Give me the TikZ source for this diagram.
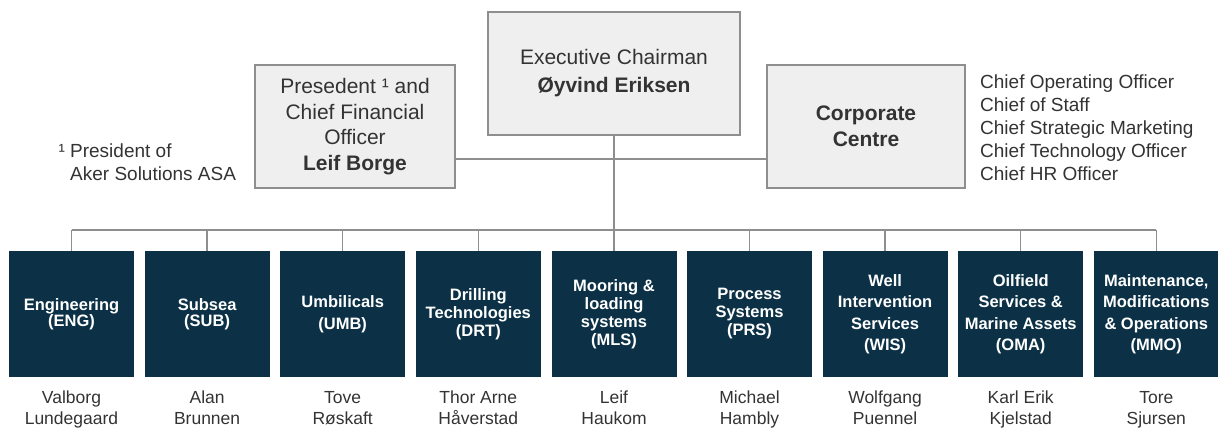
\documentclass[tikz,border=0pt]{standalone}
\usepackage{fontspec}
\setmainfont{Liberation Sans}
\usetikzlibrary{positioning}
\definecolor{navy}{HTML}{0C3146}
\definecolor{boxgray}{HTML}{EFEFEF}
\definecolor{edgegray}{HTML}{8E8E8E}
\definecolor{ink}{HTML}{333333}

\begin{document}
\begin{tikzpicture}[
  x=1pt, y=-1pt,
  hd/.style={rectangle, draw=edgegray, line width=1.4pt, fill=boxgray, align=center, text=ink, inner sep=0pt, font=\fontsize{21}{25.5}\selectfont},
  un/.style={rectangle, fill=navy, text=white, align=center, minimum width=125pt, minimum height=126pt, inner sep=0pt, font=\bfseries\fontsize{16.5}{#1}\selectfont},
  un/.default=18,
  who/.style={align=center, text=ink, inner sep=0pt, font=\fontsize{17.5}{21}\selectfont, execute at begin node=\strut, execute at end node=\strut},
  note/.style={align=left, text=ink, inner sep=0pt, anchor=west, font=\fontsize{19}{23}\selectfont},
  ln/.style={draw=edgegray, line width=1.4pt}]

\useasboundingbox (0,0) rectangle (1218,428);

% ---- top management ----
\node[hd, minimum width=252pt, minimum height=123pt] (exec) at (614,73.5) {Executive Chairman\\[2.5pt]\textbf{Øyvind Eriksen}};
\node[hd, minimum width=200pt, minimum height=123pt] (cfo) at (355,126.5) {Presedent ¹ and\\Chief Financial\\Officer\\\textbf{Leif Borge}};
\node[hd, minimum width=198pt, minimum height=123pt] (corp) at (866,126.5) {\textbf{Corporate}\\\textbf{Centre}};
\node[note] (fn) at (70,162) {\llap{¹ }President of\\Aker Solutions ASA};
\node[note] (roles) at (980,128) {Chief Operating Officer\\Chief of Staff\\Chief Strategic Marketing\\Chief Technology Officer\\Chief HR Officer};
\coordinate (bus) at (614,230);

% ---- business units ----
\node[un=16.5] (eng) at (71.5,314) {Engineering\\(ENG)};
\node[un=16.5] (sub) at (207.1,314) {Subsea\\(SUB)};
\node[un=22] (umb) at (342.7,314) {Umbilicals\\(UMB)};
\node[un] (drt) at (478.3,314) {Drilling\\Technologies\\(DRT)};
\node[un] (mls) at (614,314) {Mooring \&\\loading\\systems\\(MLS)};
\node[un] (prs) at (749.5,314) {Process\\Systems\\(PRS)};
\node[un=21.5] (wis) at (885.1,314) {Well\\Intervention\\Services\\(WIS)};
\node[un=21.5] (oma) at (1020.7,314) {Oilfield\\Services \&\\Marine Assets\\(OMA)};
\node[un=21.5] (mmo) at (1156.3,314) {Maintenance,\\Modifications\\\& Operations\\(MMO)};

% ---- heads of the units ----
\node[who] (engN) at (71.5,411) {Valborg\\Lundegaard};
\node[who] (subN) at (207.1,411) {Alan\\Brunnen};
\node[who] (umbN) at (342.7,411) {Tove\\Røskaft};
\node[who] (drtN) at (478.3,411) {Thor Arne\\Håverstad};
\node[who] (mlsN) at (614,411) {Leif\\Haukom};
\node[who] (prsN) at (749.5,411) {Michael\\Hambly};
\node[who] (wisN) at (885.1,411) {Wolfgang\\Puennel};
\node[who] (omaN) at (1020.7,411) {Karl Erik\\Kjelstad};
\node[who] (mmoN) at (1156.3,411) {Tore\\Sjursen};

% ---- lines ----
\draw[ln] ([yshift=-32.5pt]cfo.east) -- ([yshift=-32.5pt]corp.west);
\draw[ln] (exec.south) -- (mls.north);
\draw[ln] (eng |- bus) -- (mmo |- bus);
\draw[ln] (eng.north) -- (eng |- bus);  \draw[ln] (sub.north) -- (sub |- bus);
\draw[ln] (umb.north) -- (umb |- bus);  \draw[ln] (drt.north) -- (drt |- bus);
\draw[ln] (prs.north) -- (prs |- bus);  \draw[ln] (wis.north) -- (wis |- bus);
\draw[ln] (oma.north) -- (oma |- bus);  \draw[ln] (mmo.north) -- (mmo |- bus);
\end{tikzpicture}
\end{document}
